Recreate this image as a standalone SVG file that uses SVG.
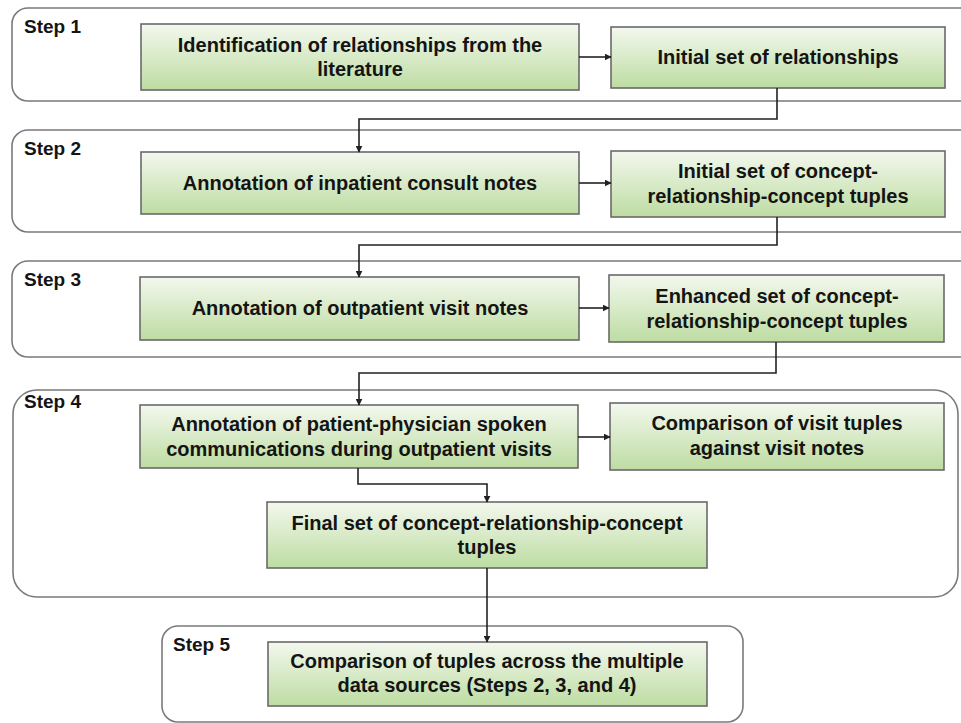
<svg xmlns="http://www.w3.org/2000/svg" width="961" height="723" viewBox="0 0 961 723">
<defs>
<linearGradient id="g" x1="0" y1="0" x2="0" y2="1">
<stop offset="0" stop-color="#f3f8ee"/>
<stop offset="1" stop-color="#bddca2"/>
</linearGradient>
<marker id="a" viewBox="0 0 10 10" refX="9" refY="5" markerWidth="7" markerHeight="7" markerUnits="userSpaceOnUse" orient="auto">
<path d="M0,0 L10,5 L0,10 z" fill="#222"/>
</marker>
<style>
.c{fill:#fff;stroke:#7a7a7a;stroke-width:1.6}
.b{fill:url(#g);stroke:#6a6a6a;stroke-width:1.6}
.t{font-family:"Liberation Sans",Arial,sans-serif;font-weight:bold;font-size:20px;fill:#141414;text-anchor:middle}
.s{font-family:"Liberation Sans",Arial,sans-serif;font-weight:bold;font-size:19px;fill:#141414}
.l{fill:none;stroke:#222;stroke-width:1.6;marker-end:url(#a)}
</style>
</defs>
<g id="step1">
<rect class="c" x="12" y="8" width="990" height="93" rx="16"/>
<text class="s" x="24" y="33">Step 1</text>
</g>
<g id="step2">
<rect class="c" x="12" y="130" width="990" height="102" rx="16"/>
<text class="s" x="24" y="155">Step 2</text>
</g>
<g id="step3">
<rect class="c" x="12" y="261" width="990" height="96" rx="16"/>
<text class="s" x="24" y="286">Step 3</text>
</g>
<g id="step4">
<rect class="c" x="13" y="390" width="945" height="207" rx="24"/>
<text class="s" x="24" y="408">Step 4</text>
</g>
<g id="step5">
<rect class="c" x="162" y="626" width="581" height="96" rx="16"/>
<text class="s" x="173" y="651">Step 5</text>
</g>
<g id="n1">
<rect class="b" x="141" y="24" width="438" height="66"/>
<text class="t" x="360" y="52">Identification of relationships from the</text>
<text class="t" x="360" y="76">literature</text>
</g>
<g id="n2">
<rect class="b" x="611" y="27" width="334" height="61"/>
<text class="t" x="778" y="64">Initial set of relationships</text>
</g>
<g id="n3">
<rect class="b" x="141" y="152" width="438" height="62"/>
<text class="t" x="360" y="190">Annotation of inpatient consult notes</text>
</g>
<g id="n4">
<rect class="b" x="611" y="151" width="334" height="66"/>
<text class="t" x="778" y="178">Initial set of concept-</text>
<text class="t" x="778" y="203">relationship-concept tuples</text>
</g>
<g id="n5">
<rect class="b" x="140" y="277" width="439" height="63"/>
<text class="t" x="360" y="315">Annotation of outpatient visit notes</text>
</g>
<g id="n6">
<rect class="b" x="609" y="275" width="335" height="67"/>
<text class="t" x="777" y="303">Enhanced set of concept-</text>
<text class="t" x="777" y="328">relationship-concept tuples</text>
</g>
<g id="n7">
<rect class="b" x="140" y="405" width="438" height="63"/>
<text class="t" x="359" y="431">Annotation of patient-physician spoken</text>
<text class="t" x="359" y="456">communications during outpatient visits</text>
</g>
<g id="n8">
<rect class="b" x="610" y="403" width="334" height="67"/>
<text class="t" x="777" y="430">Comparison of visit tuples</text>
<text class="t" x="777" y="455">against visit notes</text>
</g>
<g id="n9">
<rect class="b" x="267" y="502" width="440" height="66"/>
<text class="t" x="487" y="530">Final set of concept-relationship-concept</text>
<text class="t" x="487" y="554">tuples</text>
</g>
<g id="n10">
<rect class="b" x="268" y="642" width="439" height="64"/>
<text class="t" x="487" y="668">Comparison of tuples across the multiple</text>
<text class="t" x="487" y="692">data sources (Steps 2, 3, and 4)</text>
</g>
<g id="connectors">
<path class="l" d="M579,57 H611"/>
<path class="l" d="M777,88 V119 H359 V152"/>
<path class="l" d="M579,183 H611"/>
<path class="l" d="M777,217 V245 H359 V277"/>
<path class="l" d="M579,308 H609"/>
<path class="l" d="M776,342 V373 H359 V405"/>
<path class="l" d="M578,437 H610"/>
<path class="l" d="M358,468 V484 H487 V502"/>
<path class="l" d="M487,568 V642"/>
</g>
</svg>
